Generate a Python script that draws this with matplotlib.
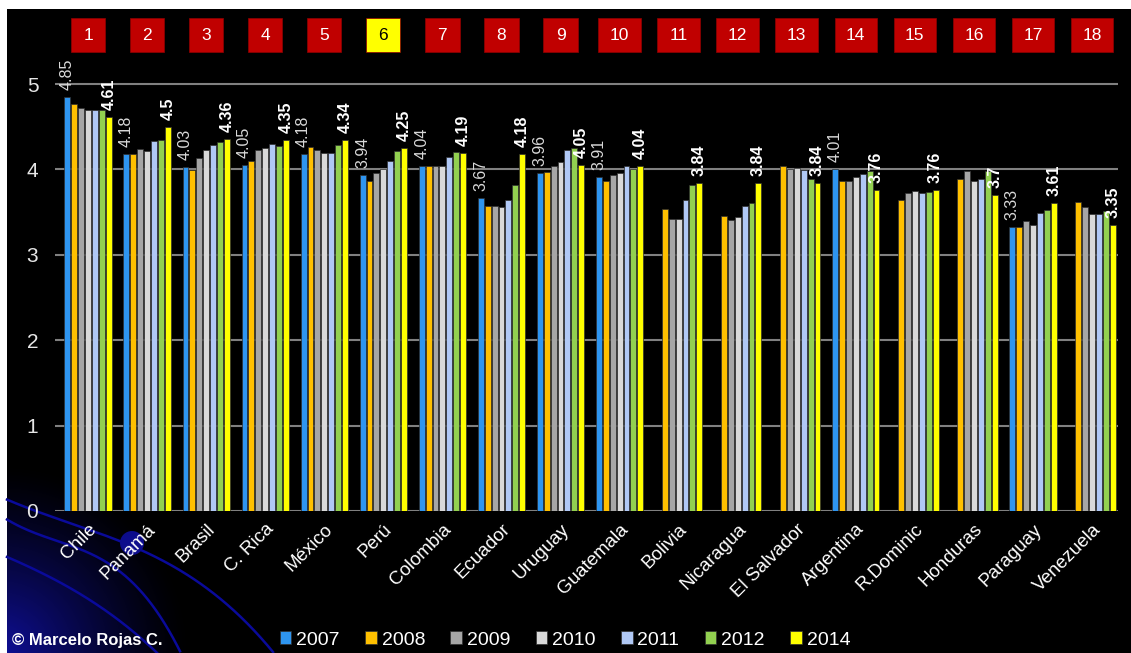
import numpy as np
import matplotlib
matplotlib.use("Agg")
import matplotlib.pyplot as plt
from matplotlib import transforms
from matplotlib.patches import Rectangle, Circle

plt.rcParams['font.family'] = ['Liberation Sans', 'DejaVu Sans']

nan = np.nan
countries = ["Chile", "Panamá", "Brasil", "C. Rica", "México", "Perú", "Colombia",
             "Ecuador", "Uruguay", "Guatemala", "Bolivia", "Nicaragua", "El Salvador",
             "Argentina", "R.Dominic", "Honduras", "Paraguay", "Venezuela"]
ranks = [str(i) for i in range(1, 19)]
years = ["2007", "2008", "2009", "2010", "2011", "2012", "2014"]

v2007 = [4.85, 4.18, 4.03, 4.05, 4.18, 3.94, 4.04, 3.67, 3.96, 3.91, nan, nan, nan, 4.01, nan, nan, 3.33, nan]
v2008 = [4.77, 4.18, 3.99, 4.10, 4.26, 3.87, 4.04, 3.57, 3.97, 3.86, 3.54, 3.45, 4.04, 3.87, 3.64, 3.89, 3.33, 3.62]
v2009 = [4.72, 4.24, 4.13, 4.23, 4.23, 3.96, 4.04, 3.57, 4.04, 3.94, 3.42, 3.41, 4.00, 3.87, 3.72, 3.98, 3.40, 3.56]
v2010 = [4.70, 4.21, 4.23, 4.25, 4.19, 4.00, 4.04, 3.56, 4.09, 3.96, 3.42, 3.44, 4.02, 3.91, 3.75, 3.86, 3.35, 3.48]
v2011 = [4.69, 4.33, 4.28, 4.30, 4.19, 4.10, 4.14, 3.64, 4.23, 4.04, 3.64, 3.57, 3.99, 3.95, 3.72, 3.89, 3.49, 3.48]
v2012 = [4.70, 4.34, 4.32, 4.27, 4.29, 4.21, 4.20, 3.82, 4.25, 4.00, 3.82, 3.61, 3.89, 3.98, 3.73, 3.98, 3.53, 3.51]
v2014 = [4.61, 4.5, 4.36, 4.35, 4.34, 4.25, 4.19, 4.18, 4.05, 4.04, 3.84, 3.84, 3.84, 3.76, 3.76, 3.7, 3.61, 3.35]

series = [v2007, v2008, v2009, v2010, v2011, v2012, v2014]
colors = ["#2E95F0", "#FFC000", "#A6A6A6", "#D9D9D9", "#B0C8F5", "#92D050", "#FFFF00"]

W, H = 1131, 653
fig = plt.figure(figsize=(W / 100, H / 100), dpi=100, facecolor="white")

# background decoration (pixel coordinates)
bg = fig.add_axes([0, 0, 1, 1], zorder=-1)
bg.set_xlim(0, W)
bg.set_ylim(H, 0)
bg.axis("off")
bg.add_patch(Rectangle((7, 9), W, H, facecolor="black", edgecolor="none"))
yy, xx = np.mgrid[0:H, 0:W]
d = np.hypot(xx, H - yy)
glow = np.clip(1 - d / 190, 0, 1) ** 1.3
img = np.zeros((H, W, 4))
img[..., 0] = 0.06
img[..., 1] = 0.06
img[..., 2] = 0.6
img[..., 3] = glow
img[:9, :, 3] = 0
img[:, :7, 3] = 0
bg.imshow(img, extent=[0, W, H, 0], aspect="auto", zorder=1)
arcs = [
    [(7, 500), (43, 513), (123, 542), (187, 577), (233, 607), (273, 653)],
    [(7, 520), (50, 537), (110, 567), (160, 613), (180, 653)],
    [(7, 557), (50, 577), (100, 607), (140, 637), (157, 653)],
]
for pts in arcs:
    px, py = zip(*pts)
    c = np.polyfit(px, py, 3)
    xs = np.linspace(px[0], px[-1], 200)
    bg.plot(xs, np.polyval(c, xs), color="#0A0A9A", lw=1.8, zorder=2)
bg.add_patch(Circle((132, 543), 12, facecolor="#0C0C8C", edgecolor="none", zorder=3))

# main chart
ax = fig.add_axes([55 / W, 1 - 511 / H, (1118 - 55) / W, 5.4 * 85.4 / H])
ax.set_facecolor("none")
x = np.arange(len(countries))
step = 0.117
bars = []
for k, (vals, col) in enumerate(zip(series, colors)):
    b = ax.bar(x + (k - 3) * step, vals, width=0.1, color=col,
               edgecolor="#303030", linewidth=0.5, zorder=3)
    bars.append(b)

for i in range(len(countries)):
    if not np.isnan(v2007[i]):
        ax.annotate(f"{v2007[i]:g}", (x[i] - 3 * step, v2007[i]), xytext=(0, 5),
                    textcoords="offset points", rotation=90, ha="center", va="bottom",
                    fontsize=11.5, color="#D9D9D9")
    ax.annotate(f"{v2014[i]:g}", (x[i] + 3 * step, v2014[i]), xytext=(0, 5),
                textcoords="offset points", rotation=90, ha="center", va="bottom",
                fontsize=11.5, color="white", fontweight="bold")

ax.set_xlim(-0.56, 17.44)
ax.set_ylim(0, 5.4)
ax.set_yticks([0, 1, 2, 3, 4, 5])
ax.yaxis.grid(True, color="#808080", lw=1.5, zorder=0)
ax.set_axisbelow(True)
for s in ax.spines.values():
    s.set_visible(False)
ax.tick_params(axis="y", length=0, pad=12, labelsize=15, labelcolor="#E6E6E6")
ax.set_xticks(x)
ax.set_xticklabels(countries, rotation=45, ha="right", rotation_mode="anchor",
                   fontsize=13.5, color="white")
ax.tick_params(axis="x", length=0, pad=7)

# rank boxes on top
tr = transforms.blended_transform_factory(ax.transData, fig.transFigure)
for i, r in enumerate(ranks):
    w = 0.58 if len(r) == 1 else 0.72
    fc = "#FFFF00" if r == "6" else "#C00000"
    tc = "black" if r == "6" else "white"
    ax.add_artist(Rectangle((i - w / 2, 1 - 52 / H), w, 34 / H, transform=tr,
                            facecolor=fc, edgecolor="#900000", lw=0.5, clip_on=False))
    ax.text(i, 1 - 35 / H, r, transform=tr, ha="center", va="center",
            fontsize=12.5, color=tc)

fig.legend(bars, years, loc="center", bbox_to_anchor=(565 / W, 1 - 640 / H), ncol=7,
           frameon=False, fontsize=14, labelcolor="white", handlelength=0.6,
           handleheight=0.6, handletextpad=0.25, columnspacing=1.3)
fig.text(12 / W, 1 - 640 / H, "© Marcelo Rojas C.", ha="left", va="center",
         fontsize=12, fontweight="bold", color="white")

fig.savefig("out.png", dpi=100, facecolor=fig.get_facecolor())
